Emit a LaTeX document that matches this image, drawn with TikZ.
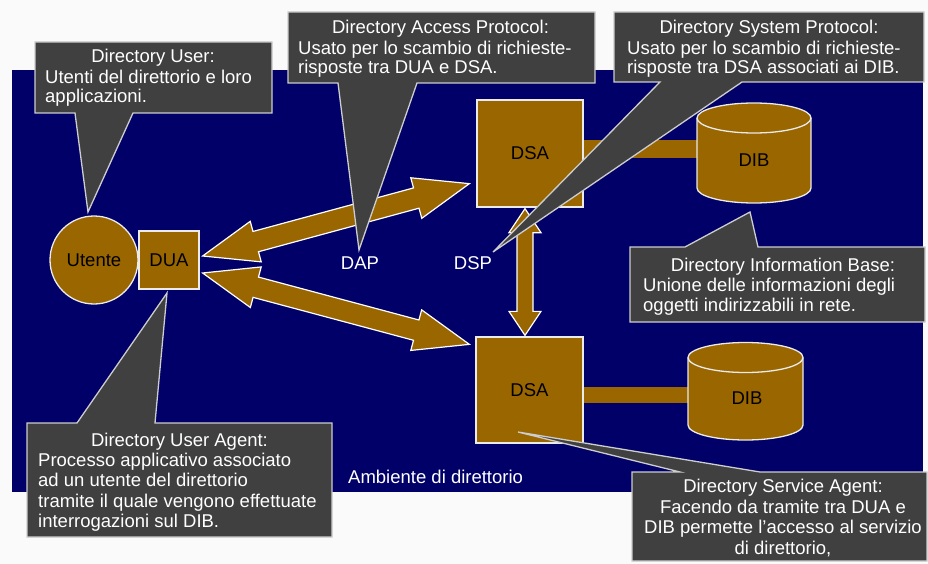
\documentclass[tikz,border=0pt]{standalone}
\usepackage{fontspec}
\setmainfont{Liberation Sans}
\usetikzlibrary{calc}
\definecolor{navybg}{RGB}{0,0,104}
\definecolor{dirbrown}{RGB}{153,102,0}
\definecolor{callgray}{RGB}{64,64,64}
\definecolor{edgegray}{RGB}{205,205,205}
\definecolor{pagebg}{RGB}{250,250,250}
\pgfdeclarelayer{bglayer}
\pgfsetlayers{bglayer,main}
\tikzset{
  brownbox/.style={rectangle, fill=dirbrown, draw=white!92!black, line width=1.3pt, inner sep=0pt,
    text=black, font=\fontsize{18.5}{20}\selectfont},
  brownshape/.style={fill=dirbrown, draw=white!92!black, line width=1.3pt},
  barfill/.style={fill=dirbrown},
  bigarrow/.style={fill=dirbrown, draw=white, line width=1.2pt, line join=miter},
  callshape/.style={fill=callgray, draw=edgegray, line width=1.3pt, line join=miter},
  calltitle/.style={text=white, inner sep=0pt, anchor=base, font=\fontsize{18.5}{19.5}\selectfont},
  callbody/.style={text=white, inner sep=0pt, anchor=north west, align=left},
  shapetext/.style={text=black, inner sep=0pt, font=\fontsize{18.5}{20}\selectfont},
  whitetext/.style={text=white, inner sep=0pt, font=\fontsize{18.5}{20}\selectfont}
}
% #1 tip A, #2 tip B, #3 half shaft width, #4 half head width, #5 head length
\newcommand{\fatdouble}[5]{%
  \filldraw[bigarrow] (#1)
    -- ($(#1)!#5!(#2)!#4!90:(#2)$) -- ($(#1)!#5!(#2)!#3!90:(#2)$)
    -- ($(#2)!#5!(#1)!#3!-90:(#1)$) -- ($(#2)!#5!(#1)!#4!-90:(#1)$)
    -- (#2)
    -- ($(#2)!#5!(#1)!#4!90:(#1)$) -- ($(#2)!#5!(#1)!#3!90:(#1)$)
    -- ($(#1)!#5!(#2)!#3!-90:(#2)$) -- ($(#1)!#5!(#2)!#4!-90:(#2)$)
    -- cycle;}
\begin{document}
\begin{tikzpicture}[x=1pt,y=-1pt]
\useasboundingbox (0,0) rectangle (928,564);

% main shapes
\node[brownshape, circle, minimum size=88pt, inner sep=0pt, text=black,
      font=\fontsize{18.5}{20}\selectfont] (user) at (94,260) {Utente};
\node[brownbox, minimum width=60pt, minimum height=58pt] (dua) at (169,260) {DUA};
\node[brownbox, minimum width=106pt, minimum height=107pt] (dsa1) at (530,153.5) {DSA};
\node[brownbox, minimum width=107pt, minimum height=106pt] (dsa2) at (529.5,390) {DSA};

% cylinders
\filldraw[brownshape] (697,118) -- (697,188)
  arc[start angle=180, end angle=360, x radius=57pt, y radius=15pt] -- (811,118)
  arc[start angle=0, end angle=180, x radius=57pt, y radius=15pt] -- cycle;
\draw[white!92!black, line width=1.3pt] (697,118)
  arc[start angle=180, end angle=360, x radius=57pt, y radius=15pt];
\node[shapetext] (dib1) at (754,160) {DIB};

\filldraw[brownshape] (688,357.5) -- (688,425)
  arc[start angle=180, end angle=360, x radius=57.5pt, y radius=15pt] -- (803,357.5)
  arc[start angle=0, end angle=180, x radius=57.5pt, y radius=15pt] -- cycle;
\draw[white!92!black, line width=1.3pt] (688,357.5)
  arc[start angle=180, end angle=360, x radius=57.5pt, y radius=15pt];
\node[shapetext] (dib2) at (747,398) {DIB};

% connector end points
\coordinate (dapL) at ($(dua.east)+(3,-4)$);
\coordinate (dapR) at ($(dsa1.south west)+(-7,-24)$);
\coordinate (dspL) at ($(dua.east)+(3,13)$);
\coordinate (dspR) at ($(dsa2.north west)+(-6,8)$);
\coordinate (vT) at ($(dsa1.south)+(-5,1)$);
\coordinate (vB) at ($(dsa2.north)+(-4.5,-1)$);

\begin{pgfonlayer}{bglayer}
  \fill[pagebg] (0,0) rectangle (928,564);
  \fill[navybg] (12,70) rectangle (923,492);
  \fatdouble{dapL}{dapR}{10.5pt}{21pt}{55pt}
  \fatdouble{dspL}{dspR}{10.5pt}{21pt}{55pt}
  \fatdouble{vT}{vB}{8pt}{16pt}{24pt}
  \fill[barfill] (dsa1.east |- 0,140) rectangle (700,158);
  \fill[barfill] (dsa2.east |- 0,387) rectangle (690,403);
\end{pgfonlayer}

% plain labels
\node[whitetext] (dap) at (360,263) {DAP};
\node[whitetext] (dsp) at (473,263) {DSP};
\node[whitetext, anchor=west] (amb) at (348,477) {Ambiente di direttorio};

% callout: Directory User
\filldraw[callshape] (35,42) -- (272,42) -- (272,113) -- (133,113) -- (88,212) -- (75,113) -- (35,113) -- cycle;
\node[calltitle] (dut) at (153,63) {Directory User:};
\node[callbody, font=\fontsize{18.5}{19}\selectfont] (dub) at (45,69.8)
  {Utenti del direttorio e loro\\applicazioni.};

% callout: DAP
\filldraw[callshape] (288,12) -- (595,12) -- (595,83) -- (417,83) -- (359,250) -- (338,83) -- (288,83) -- cycle;
\node[calltitle] (dapt) at (440.5,34) {Directory Access Protocol:};
\node[callbody, font=\fontsize{18.5}{19.5}\selectfont] (dapb) at (298,40.8)
  {Usato per lo scambio di richieste-\\risposte tra DUA e DSA.};

% callout: DSP
\filldraw[callshape] (614,12) -- (924,12) -- (924,82) -- (742,82) -- (493,252) -- (660,82) -- (614,82) -- cycle;
\node[calltitle] (dspt) at (769,34) {Directory System Protocol:};
\node[callbody, font=\fontsize{18.5}{19.5}\selectfont] (dspb) at (627,40.8)
  {Usato per lo scambio di richieste-\\risposte tra DSA associati ai DIB.};

% callout: DIB
\filldraw[callshape] (630,247) -- (685,247) -- (750,212) -- (758,247) -- (925,247) -- (925,322) -- (630,322) -- cycle;
\node[calltitle] (dibt) at (783,271) {Directory Information Base:};
\node[callbody, font=\fontsize{18.5}{20}\selectfont] (dibb) at (643,277.8)
  {Unione delle informazioni degli\\oggetti indirizzabili in rete.};

% callout: DUA
\filldraw[callshape] (27,423) -- (77,423) -- (167,293) -- (155,423) -- (332,423) -- (332,537) -- (27,537) -- cycle;
\node[calltitle] (duat) at (179.5,446) {Directory User Agent:};
\node[callbody, font=\fontsize{18.5}{20.5}\selectfont] (duab) at (38,452.8)
  {Processo applicativo associato\\ad un utente del direttorio\\tramite il quale vengono effettuate\\interrogazioni sul DIB.};

% callout: DSA
\filldraw[callshape] (632,472) -- (680,472) -- (518,432) -- (760,472) -- (927,472) -- (927,561) -- (632,561) -- cycle;
\node[callbody, anchor=north, align=center, font=\fontsize{18.5}{20.7}\selectfont] (dsab) at (783,478.8)
  {Directory Service Agent:\\Facendo da tramite tra DUA e\\DIB permette l'accesso al servizio\\di direttorio,};
\end{tikzpicture}
\end{document}
